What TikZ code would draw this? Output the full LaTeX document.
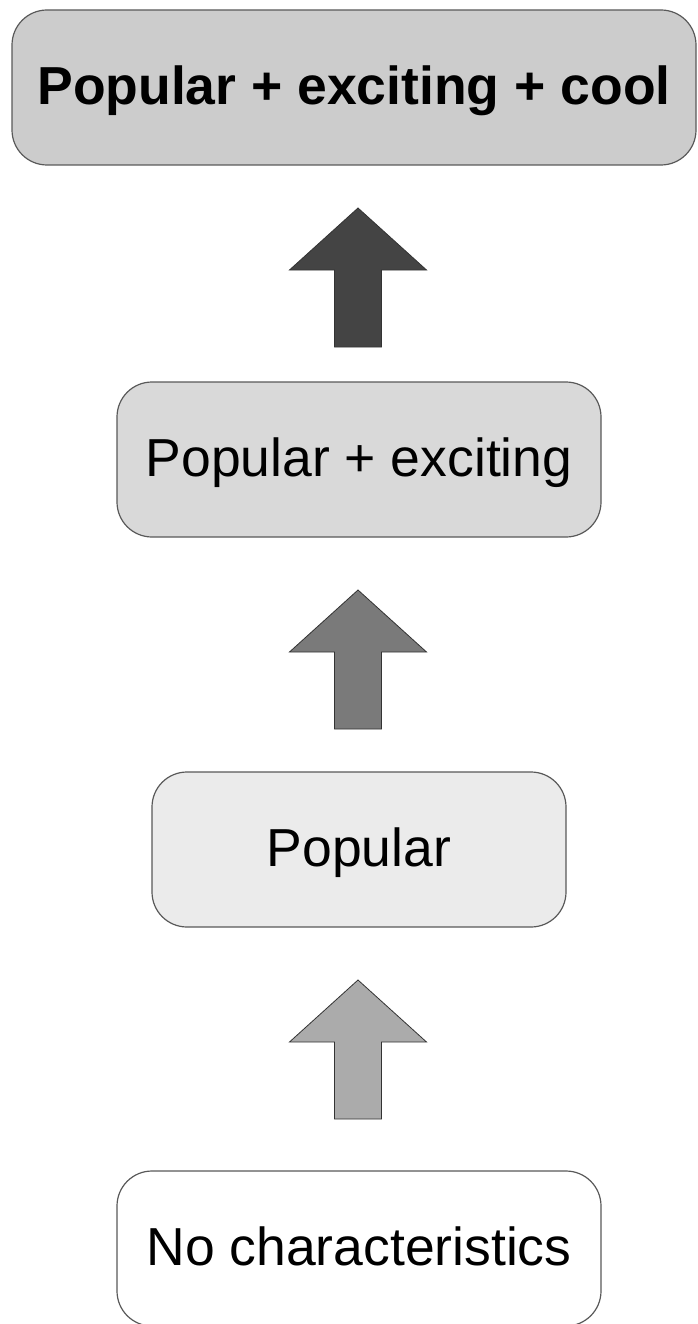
\documentclass[tikz,border=0pt]{standalone}
\usepackage{fontspec}
\setmainfont{Liberation Sans}
\usetikzlibrary{calc}

\definecolor{edgegray}{HTML}{595959}
\definecolor{fillcool}{HTML}{CCCCCC}
\definecolor{fillexciting}{HTML}{D9D9D9}
\definecolor{fillpopular}{HTML}{EBEBEB}
\definecolor{arrowdark}{HTML}{444444}
\definecolor{arrowmid}{HTML}{7A7A7A}
\definecolor{arrowlight}{HTML}{ABABAB}

\tikzset{
    stage/.style={draw=edgegray, line width=1.2pt, rounded corners=35pt,
        minimum height=155pt, inner sep=0pt, align=center,
        text height=46pt, text depth=12pt,
        font=\fontsize{53.5}{60}\selectfont},
    uparrow/.style={draw=black!80, line width=0.8pt}
}

\begin{document}
\begin{tikzpicture}[x=1pt, y=-1pt]
    \useasboundingbox (0,0) rectangle (697,1324);

    \node[stage, fill=fillcool, minimum width=684pt, font=\fontsize{53.5}{60}\selectfont\bfseries] (cool) at (354,87.5) {Popular + exciting + cool};
    \node[stage, fill=fillexciting, minimum width=484pt] (exciting) at (359,459.5) {Popular + exciting};
    \node[stage, fill=fillpopular, minimum width=414pt] (popular) at (359,849.5) {Popular};
    \node[stage, fill=white, minimum width=484pt] (none) at (359,1248.5) {No characteristics};

    % block arrows between the stages
    \foreach \t/\c in {208/arrowdark, 590/arrowmid, 980/arrowlight} {
        \draw[uparrow, fill=\c] (358,\t) -- (426.5,\t+62) -- (381.5,\t+62) -- (381.5,\t+139)
            -- (334.5,\t+139) -- (334.5,\t+62) -- (289.5,\t+62) -- cycle;
    }
\end{tikzpicture}
\end{document}
